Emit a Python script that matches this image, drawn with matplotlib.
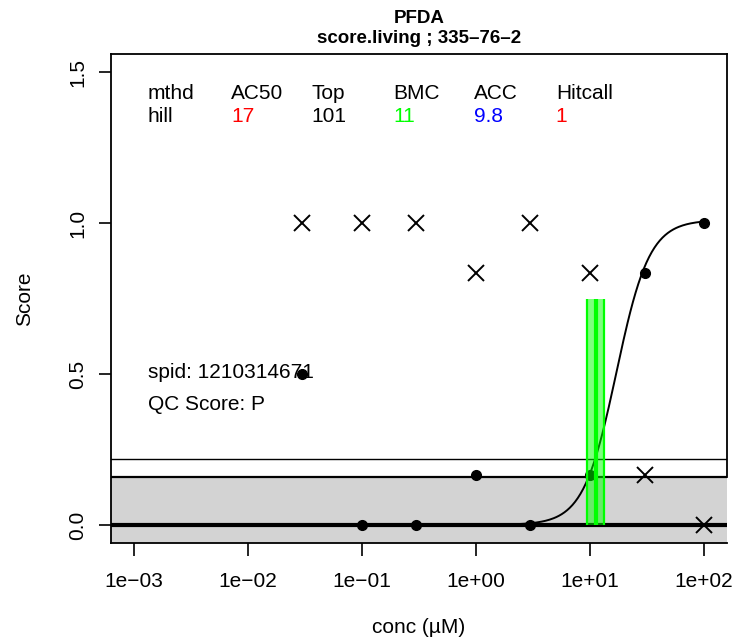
import numpy as np
import matplotlib
matplotlib.use("Agg")
import matplotlib.pyplot as plt

plt.rcParams['font.family'] = ['Liberation Sans', 'DejaVu Sans']

# --- data ---
conc = [0.03, 0.1, 0.3, 1, 3, 10, 30, 100]
resp = [0.5, 0.0, 0.0, 0.1667, 0.0, 0.1667, 0.8333, 1.0]
resp_x = [1.0, 1.0, 1.0, 0.8333, 1.0, 0.8333, 0.1667, 0.0]

# hill fit parameters
hill_top = 1.01
hill_ac50 = 17.0
hill_n = 3.0

bmc = 11.3
bmdl = 9.4
bmdu = 13.3
bmc_top = 0.75

cutoff = 0.16
cutoff_hi = 0.2167

hdr_names = ["mthd", "AC50", "Top", "BMC", "ACC", "Hitcall"]
hdr_values = ["hill", "17", "101", "11", "9.8", "1"]
hdr_colors = ["black", "red", "black", "#00FF00", "blue", "red"]

xtick_vals = [1e-3, 1e-2, 1e-1, 1e0, 1e1, 1e2]
xtick_labels = ["1e\u221203", "1e\u221202", "1e\u221201", "1e+00", "1e+01", "1e+02"]
ytick_vals = [0.0, 0.5, 1.0, 1.5]

FS = 15
YLO, YHI = -0.06, 1.56

fig = plt.figure(figsize=(7.38, 6.39), dpi=100)
ax = fig.add_axes([111 / 738, 96 / 639, 616 / 738, 489 / 639])

ax.set_xscale('log')
ax.set_xlim(10 ** -3.2, 10 ** 2.2)
ax.set_ylim(YLO, YHI)

# cutoff band
ax.axhspan(YLO, cutoff, facecolor='#D3D3D3', edgecolor='none', zorder=1)
ax.axhline(cutoff, color='black', lw=1.6, zorder=2)
ax.axhline(cutoff_hi, color='black', lw=1.0, zorder=2)
ax.axhline(0, color='black', lw=3, zorder=2)

# hill curve
xc = np.logspace(np.log10(conc[0]), np.log10(conc[-1]), 300)
yc = hill_top / (1 + (hill_ac50 / xc) ** hill_n)
ax.plot(xc, yc, color='black', lw=1.4, zorder=3)

# points
ax.plot(conc, resp, 'o', color='black', ms=7, zorder=4)
ax.plot(conc, resp_x, 'x', color='black', ms=12, mew=1.4, zorder=4)

# BMC with confidence band
ax.fill_between([bmdl, bmdu], 0, bmc_top, color='#00FF00', alpha=0.5, lw=0, zorder=5)
ax.vlines([bmdl, bmdu], 0, bmc_top, color='#00FF00', lw=1.6, zorder=5)
ax.vlines([bmc], 0, bmc_top, color='#00FF00', lw=3, zorder=5)

# header table
col_x = [0.060, 0.195, 0.326, 0.458, 0.589, 0.722]
for cx, name, val, col in zip(col_x, hdr_names, hdr_values, hdr_colors):
    ax.text(cx, 0.920, name, transform=ax.transAxes, fontsize=FS, va='center', ha='left')
    ax.text(cx, 0.873, val, transform=ax.transAxes, fontsize=FS, va='center', ha='left', color=col)

ax.text(0.060, 0.348, "spid: 1210314671", transform=ax.transAxes, fontsize=FS, va='center', zorder=3)
ax.text(0.060, 0.284, "QC Score: P", transform=ax.transAxes, fontsize=FS, va='center')

ax.set_xticks(xtick_vals)
ax.set_xticklabels(xtick_labels)
ax.minorticks_off()
ax.set_yticks(ytick_vals)
ax.set_yticklabels(["0.0", "0.5", "1.0", "1.5"], rotation=90, va='center')
ax.tick_params(axis='both', length=9, width=1.2, labelsize=FS, direction='out')
ax.tick_params(axis='x', pad=12)
ax.tick_params(axis='y', pad=8)

for s in ax.spines.values():
    s.set_linewidth(1.3)
# grey band is painted over the lower part of the right border
ax.spines['right'].set_bounds(cutoff, YHI)

ax.set_title("PFDA\nscore.living ; 335\u201376\u20132", fontsize=13.5, fontweight='bold',
             linespacing=1.25, pad=8)
ax.set_xlabel("conc (\u00b5M)", fontsize=FS, labelpad=19)
ax.set_ylabel("Score", fontsize=FS, labelpad=25)

fig.savefig("out.png", dpi=100)
